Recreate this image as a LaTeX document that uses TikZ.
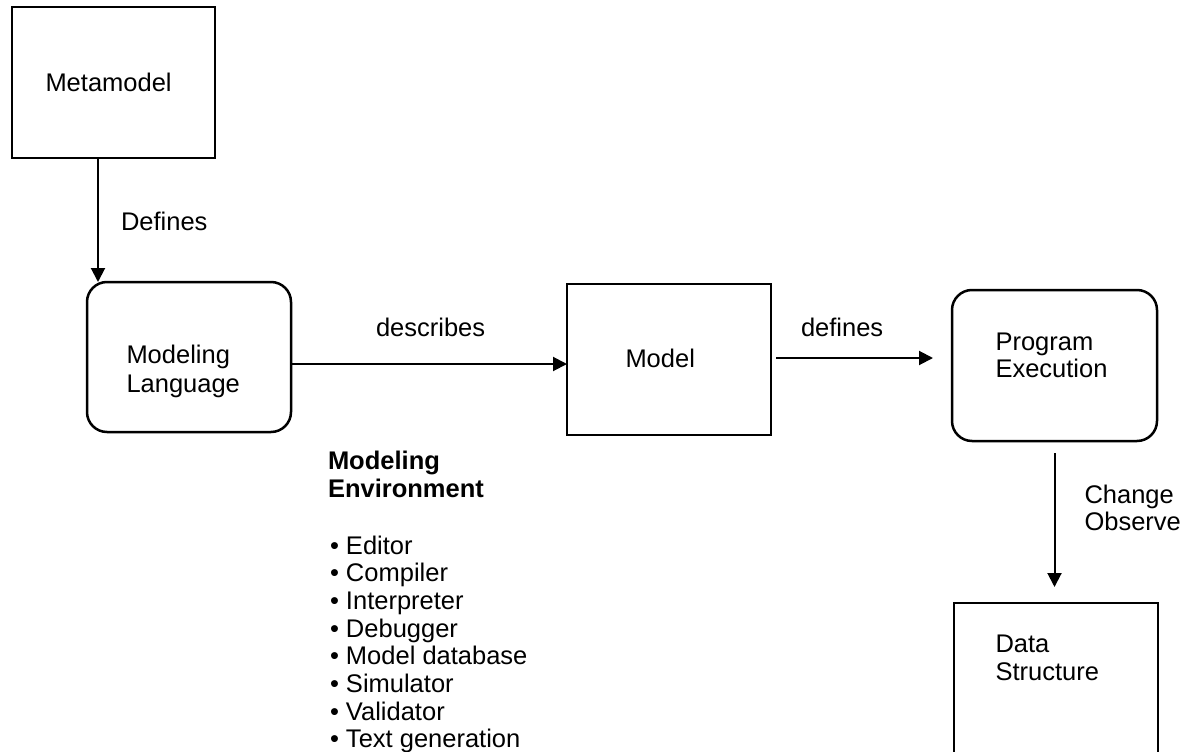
\documentclass[tikz,border=0pt]{standalone}
\usepackage{fontspec}
\setmainfont{Liberation Sans}
\usetikzlibrary{arrows.meta,calc}
\begin{document}
\begin{tikzpicture}[x=1pt,y=-1pt,
  every node/.style={inner sep=0pt,outer sep=0pt},
  txt/.style={anchor=base west,font=\fontsize{25.5}{28}\selectfont},
  sharpbox/.style={draw,line width=2.5pt},
  roundbox/.style={draw,line width=2.5pt,rounded corners=20pt},
  arr/.style={line width=2pt,-{Triangle[length=14pt,width=14pt]}}]
\useasboundingbox (0,0) rectangle (1186,752);
\clip (0,0) rectangle (1186,752);
\fill[white] (0,0) rectangle (1186,752);

% boxes
\node[sharpbox,minimum width=203pt,minimum height=151pt] (mm) at (113.5,82.5) {};
\node[roundbox,minimum width=204pt,minimum height=150pt] (ml) at (189,357) {};
\node[sharpbox,minimum width=204pt,minimum height=151pt] (model) at (669,359.5) {};
\node[roundbox,minimum width=205pt,minimum height=151pt] (pe) at (1054.5,365.5) {};
\node[sharpbox,minimum width=204pt,minimum height=187pt] (ds) at (1056,696.5) {};

% box texts
\node[txt] (mmt) at (45.5,92) {Metamodel};
\node[txt] (mlt1) at (126.5,363) {Modeling};
\node[txt] (mlt2) at (126.5,392) {Language};
\node[txt] (modelt) at (625.5,367) {Model};
\node[txt] (pet1) at (995.5,350) {Program};
\node[txt] (pet2) at (995.5,377) {Execution};
\node[txt] (dst1) at (995.5,652) {Data};
\node[txt] (dst2) at (995.5,680) {Structure};

% connectors
\draw[arr] ([xshift=86pt]mm.south west) coordinate (a0) -- (a0 |- ml.north);
\draw[arr] ($(ml.east)+(0,7)$) coordinate (b0) -- (b0 -| model.west);
\draw[arr] ($(model.east)+(5,-1.5)$) coordinate (c0) -- ($(c0 -| pe.west)+(-19,0)$);
\draw[arr] ($(pe.south)+(0,12)$) -- ($(pe.south |- ds.north)+(0,-16)$);

% connector labels
\node[txt] (lbl1) at (121,230) {Defines};
\node[txt] (lbl2) at (376,336) {describes};
\node[txt] (lbl3) at (801,336) {defines};
\node[txt] (lbl4a) at (1084.5,503) {Change};
\node[txt] (lbl4b) at (1084.5,530) {Observe};

% modeling environment list
\node[txt,font=\fontsize{25.5}{28}\selectfont\bfseries] (envh1) at (328,469) {Modeling};
\node[txt,font=\fontsize{25.5}{28}\selectfont\bfseries] (envh2) at (328,497) {Environment};
\foreach \t [count=\i from 0] in {Editor,Compiler,Interpreter,Debugger,Model database,Simulator,Validator,Text generation}
  \node[txt] (env\i) at (330,554+27.7*\i) {•\ \t};
\end{tikzpicture}
\end{document}
